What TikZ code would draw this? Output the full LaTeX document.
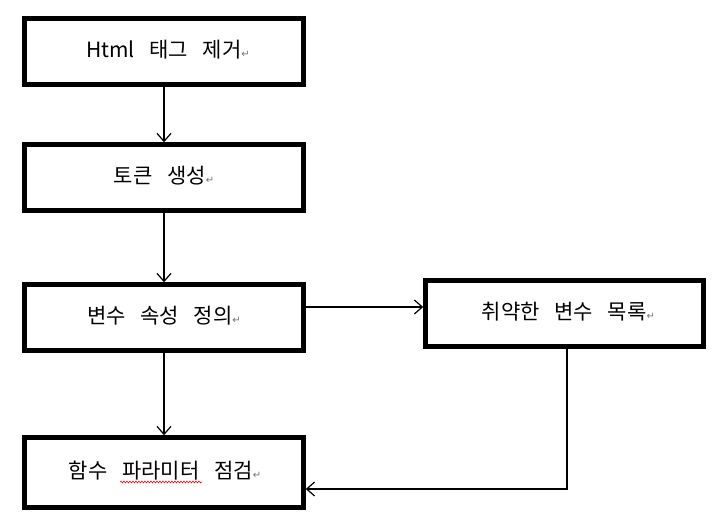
\documentclass[tikz,border=0pt]{standalone}
\usepackage{fontspec}
\setmainfont{Noto Sans CJK KR}
\newfontfamily\symfont{DejaVu Sans}
\usetikzlibrary{arrows.meta,decorations.pathmorphing}
\newcommand{\pmark}{{\symfont\color{black!55}\fontsize{10}{10}\selectfont ↵}}
\newcommand{\wsp}{\hspace{0.7em}}
\tikzset{
  stepbox/.style={draw=black, line width=4.5pt, fill=white, minimum width=279pt,
    minimum height=66pt, inner sep=0pt, font=\fontsize{21}{24}\selectfont},
  conn/.style={draw=black, line width=1.2pt, -{Straight Barb[length=8pt,width=14pt,line width=1.2pt]}},
}
\begin{document}
\begin{tikzpicture}[x=1pt,y=-1pt]
\useasboundingbox[fill=white] (0,0) rectangle (717,525);
\node[stepbox] (b1) at (164,51.5) {\raisebox{5pt}{\hspace{8pt}Html\wsp 태그\wsp 제거\pmark}};
\node[stepbox] (b2) at (164,177.5) {\raisebox{5pt}{토큰\wsp 생성\pmark}};
\node[stepbox] (b3) at (164,317.5) {\raisebox{5pt}{변수\wsp 속성\wsp 정의\pmark}};
\node[stepbox, minimum width=278pt] (b4) at (564.5,313.5) {\raisebox{5pt}{\hspace{8pt}취약한\wsp 변수\wsp 목록\pmark}};
\node[stepbox, minimum height=70pt] (b5) at (164,472.5) {\raisebox{5pt}{\hspace{2pt}함수\wsp 파라미터\wsp 점검\pmark}};
\draw[conn] (b1) -- (b2);
\draw[conn] (b2) -- (b3);
\draw[conn] (b3) -- (b5);
\path ([yshift=10.5pt]b3.east) coordinate (r1);
\draw[conn] (r1) -- (r1 -| b4.west);
\path ([xshift=2.5pt]b4.south) coordinate (f1);
\path ([yshift=-16.5pt]b5.east) coordinate (f2);
\draw[conn] (f1) |- (f2);
\draw[red, line width=0.6pt, decorate, decoration={snake, amplitude=0.9pt, segment length=3pt}] (120,482) -- (202,482);
\end{tikzpicture}
\end{document}
